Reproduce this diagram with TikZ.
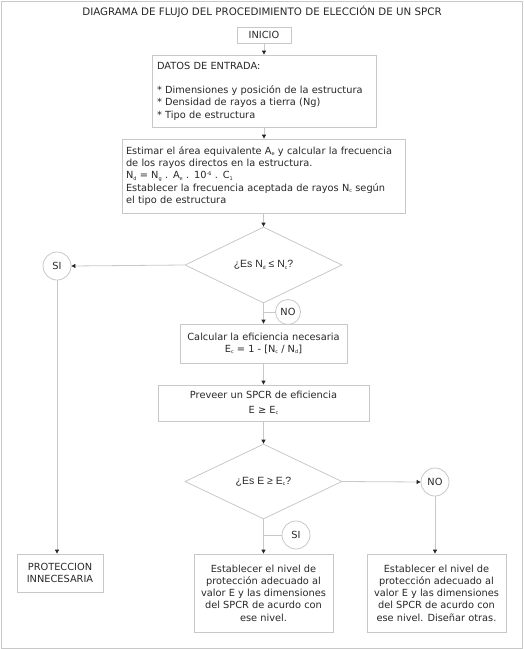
\documentclass[tikz,border=0pt]{standalone}
\usepackage{fontspec}
\setmainfont{DejaVu Sans}
\newfontfamily\arialf{Liberation Sans}
\usetikzlibrary{shapes.geometric,arrows.meta,shadows}
\definecolor{linegray}{RGB}{200,200,200}
\definecolor{txt}{RGB}{40,40,40}
\newcommand\sbs[1]{\raisebox{-1.3pt}{\fontsize{5}{5}\selectfont #1}}
\newcommand\sps[1]{\raisebox{3.6pt}{\fontsize{5}{5}\selectfont #1}}
\begin{document}
\begin{tikzpicture}[x=1pt,y=-1pt,
  font=\fontsize{9.8}{12.3}\selectfont,
  every node/.style={text=txt},
  box/.style={draw=linegray, line width=0.8pt, fill=white, inner sep=4pt,
    drop shadow={shadow xshift=1.2pt, shadow yshift=-1.2pt, fill=black!12, opacity=1}},
  circ/.style={circle, draw=linegray, line width=0.8pt, fill=white, inner sep=0pt},
  dec/.style={diamond, draw=linegray, line width=0.8pt, inner sep=0pt},
  conn/.style={draw=linegray, line width=0.8pt},
  arr/.style={conn, -{Triangle[width=4pt,length=4pt,color=black!85]}}]
\useasboundingbox (0,0) rectangle (523,649);
\draw[linegray, line width=1pt] (1,1) rectangle (522,648);

\node[font=\fontsize{10.3}{12.3}\selectfont] (title) at (262,12) {DIAGRAMA DE FLUJO DEL PROCEDIMIENTO DE ELECCIÓN DE UN SPCR};
\node[box, minimum width=54pt, minimum height=16pt] (inicio) at (264,35) {INICIO};
\node[box, minimum width=224pt, minimum height=72pt, text width=214pt, align=left] (datos) at (264,91)
  {DATOS DE ENTRADA:\\[12.3pt]
   {*} Dimensiones y posición de la estructura\\
   {*} Densidad de rayos a tierra (Ng)\\
   {*} Tipo de estructura};
\node[box, minimum width=283pt, minimum height=74pt, text width=275pt, align=left] (estimar) at (263.5,176)
  {Estimar el área equivalente A\sbs{e} y calcular la frecuencia\\
   de los rayos directos en la estructura.\\
   N\sbs{d} = N\sbs{g} . A\sbs{e} . 10\sps{-6} . C\sbs{1}\\
   Establecer la frecuencia aceptada de rayos N\sbs{c} según\\
   el tipo de estructura};
\node[dec, minimum width=157pt, minimum height=76pt, aspect=2.07] (d1) at (263.5,265)
  {\arialf\fontsize{10.5}{12}\selectfont ¿Es N\sbs{d} ≤ N\sbs{c}?};
\node[circ, minimum size=28pt] (siA) at (57,266) {SI};
\node[circ, minimum size=25pt] (noA) at (288,312) {NO};
\node[box, minimum width=167pt, minimum height=39pt, align=center] (calc) at (263.5,343.5)
  {Calcular la eficiencia necesaria\\ E\sbs{c} = 1 - [N\sbs{c} / N\sbs{d}]};
\node[box, minimum width=211pt, minimum height=36pt, align=center] (prev) at (263.5,403)
  {Preveer un SPCR de eficiencia\\[2pt] E ≥ E\sbs{c}};
\node[dec, minimum width=157pt, minimum height=75pt, aspect=2.09] (d2) at (263.5,481.5)
  {\arialf\fontsize{10.5}{12}\selectfont ¿Es E ≥ E\sbs{c}?};
\node[circ, minimum size=28pt] (noB) at (435,482) {NO};
\node[circ, minimum size=28pt] (siB) at (296,535) {SI};
\node[box, minimum width=139pt, minimum height=78pt, align=center] (est1) at (263.5,593)
  {Establecer el nivel de\\ protección adecuado al\\ valor E y las dimensiones\\ del SPCR de acurdo con\\ ese nivel.};
\node[box, minimum width=139pt, minimum height=78pt, align=center] (est2) at (436.5,593)
  {Establecer el nivel de\\ protección adecuado al\\ valor E y las dimensiones\\ del SPCR de acurdo con\\ ese nivel. Diseñar otras.};
\node[box, minimum width=86pt, minimum height=38pt, align=center] (prot) at (60,573)
  {PROTECCION\\ INNECESARIA};

\draw[arr] (inicio.south) -- (inicio.south |- datos.north);
\draw[arr] (datos.south) -- (datos.south |- estimar.north);
\draw[arr] (estimar.south -| d1.north) -- (d1.north);
\draw[arr] (d1.west) -- (siA.east);
\draw[arr] (d1.south) -- (d1.south |- calc.north);
\draw[conn] (noA.west) -- (noA.west -| d1.south);
\draw[arr] (calc.south) -- (calc.south |- prev.north);
\draw[arr] (prev.south) -- (d2.north);
\draw[arr] (d2.east) -- (noB.west);
\draw[arr] (d2.south) -- (d2.south |- est1.north);
\draw[conn] (siB.west) -- (siB.west -| d2.south);
\draw[arr] (noB.south) -- (noB.south |- est2.north);
\draw[arr] (siA.south) -- (siA.south |- prot.north);
\end{tikzpicture}
\end{document}
